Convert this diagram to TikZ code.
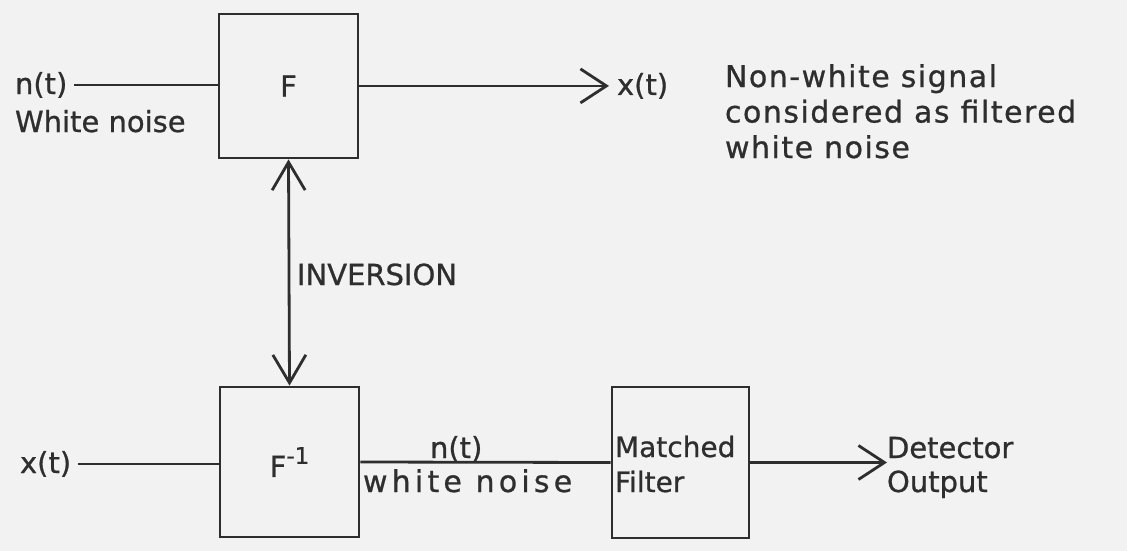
\documentclass[tikz,border=0pt]{standalone}
\usepackage{fontspec}
\setmainfont{DejaVu Sans}[FakeBold=0.8]
\usetikzlibrary{arrows.meta}
\definecolor{paper}{gray}{0.95}
\definecolor{ink}{gray}{0.18}
\begin{document}
\begin{tikzpicture}[x=1pt,y=-1pt,
  blk/.style={draw=ink, line width=2.8pt, inner sep=0pt, text=ink,
    font=\fontsize{29}{36}\selectfont},
  lbl/.style={anchor=base west, inner sep=0pt, outer sep=0pt, text=ink, align=left,
    font=\fontsize{29}{35}\selectfont},
  wide/.style={font=\fontsize{30}{35.5}\selectfont\addfontfeature{LetterSpace=#1}},
  wire/.style={draw=ink, line width=2.8pt},
  tip/.style={-{Straight Barb[length=26pt,width=34pt]}},
  dtip/.style={{Straight Barb[length=28pt,width=33pt]}-{Straight Barb[length=28pt,width=33pt]}}
]
\useasboundingbox[fill=paper] (0,0) rectangle (1127,551);

% blocks
\node[blk, minimum width=139pt, minimum height=144pt] (F) at (288.5,86) {F};
\node[blk, minimum width=139pt, minimum height=150pt] (Finv) at (289.5,462)
  {F\raisebox{0.45em}{\fontsize{23}{23}\selectfont -1}};
\node[blk, minimum width=137pt, minimum height=151pt] (MF) at (680.5,462.5) {};

% labels
\node[lbl] (nin) at (15,94) {n(t)};
\node[lbl] (wn) at (15,132) {White noise};
\node[lbl] (xout) at (617,95) {x(t)};
\node[lbl, wide=5] (desc) at (725,158) {Non-white signal\\considered as filtered\\white noise};
\node[lbl] (inv) at (297,285) {INVERSION};
\node[lbl] (xin) at (20,473) {x(t)};
\node[lbl] (nmid) at (430,458) {n(t)};
\node[lbl, wide=14] (wmid) at (363,492) {white noise};
\node[lbl, font=\fontsize{28}{35}\selectfont] (mft) at (615,492) {Matched\\Filter};
\node[lbl, font=\fontsize{29}{34}\selectfont] (det) at (887,492) {Detector\\Output};

% connectors
\draw[wire, shorten <=7pt] (nin.east) -- (nin.east -| F.west);
\draw[wire, tip, shorten >=8pt] (F.east |- xout.west) -- (xout.west);
\draw[wire, dtip] (F.south) -- (Finv.north);
\draw[wire, shorten <=7pt] (xin.east) -- (xin.east -| Finv.west);
\draw[wire] (Finv.east) -- (MF.west);
\draw[wire, tip] (MF.east) -- (MF.east -| det.west);
\end{tikzpicture}
\end{document}
